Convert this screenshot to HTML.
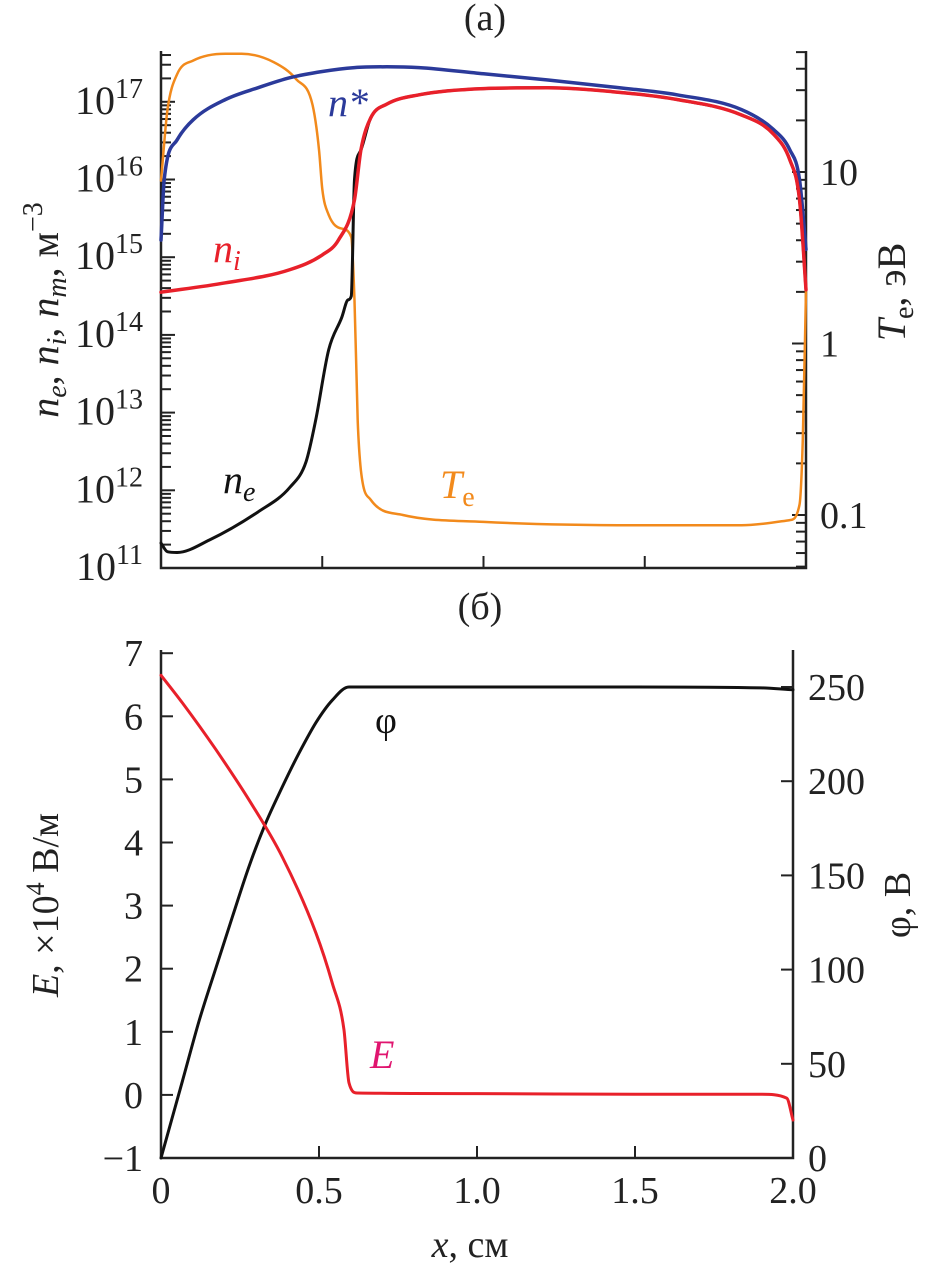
<!DOCTYPE html>
<html><head><meta charset="utf-8"><style>
html,body{margin:0;padding:0;background:#fff;}
svg{display:block;font-family:"Liberation Serif",serif;}
</style></head><body>
<svg id="c" width="925" height="1267" viewBox="0 0 925 1267" xmlns="http://www.w3.org/2000/svg">
<g id="g"></g>
<g style="font-family:'Liberation Serif',serif" fill="#222">
<text x="485" y="30" text-anchor="middle" font-size="38">(a)</text>
<text x="480" y="619" text-anchor="middle" font-size="38">(б)</text>
<text x="470" y="1257" text-anchor="middle" font-size="38"><tspan font-style="italic">x</tspan>, см</text>
<text transform="translate(58,310) rotate(-90)" text-anchor="middle" font-size="40"><tspan font-style="italic">n</tspan><tspan font-style="italic" font-size="28" dy="8">e</tspan><tspan dy="-8">, </tspan><tspan font-style="italic">n</tspan><tspan font-style="italic" font-size="28" dy="8">i</tspan><tspan dy="-8">, </tspan><tspan font-style="italic">n</tspan><tspan font-style="italic" font-size="28" dy="8">m</tspan><tspan dy="-8">, м</tspan><tspan font-size="28" dy="-16">−3</tspan></text>
<text transform="translate(905,292) rotate(-90)" text-anchor="middle" font-size="40"><tspan font-style="italic">T</tspan><tspan font-size="28" dy="8">e</tspan><tspan dy="-8">, эВ</tspan></text>
<text transform="translate(58,905) rotate(-90)" text-anchor="middle" font-size="38"><tspan font-style="italic">E</tspan>, ×10<tspan font-size="26" dy="-14">4</tspan><tspan dy="14"> В/м</tspan></text>
<text transform="translate(910,905) rotate(-90)" text-anchor="middle" font-size="38">φ, В</text>
<text x="328" y="116" font-size="40" font-style="italic" fill="#2b3a9a">n*</text>
<text x="213" y="262" font-size="40" font-style="italic" fill="#e8202a">n<tspan font-size="28" dy="8">i</tspan></text>
<text x="223" y="493" font-size="40" font-style="italic" fill="#111">n<tspan font-size="28" dy="8">e</tspan></text>
<text x="440" y="498" font-size="40" font-style="italic" fill="#f28a1c">T<tspan font-style="normal" font-size="28" dy="8">e</tspan></text>
<text x="375" y="733" font-size="38" fill="#111">φ</text>
<text x="370" y="1068" font-size="40" font-style="italic" fill="#e0156f">E</text>
</g>
</svg>
<script>
// ---- panel (a) data: x in cm, values as log10 ----
const nStarX = [0,0.01,0.05,0.1,0.2,0.3,0.4,0.5,0.6,0.7,0.8,1.0,1.2,1.4,1.6,1.8,1.9,1.95,1.98,2.0];
const nStarLog = [15.22,16.0,16.51,16.77,17.03,17.18,17.31,17.39,17.44,17.45,17.44,17.36,17.28,17.19,17.09,16.9,16.64,16.38,16.0,15.1];
const niX = [0,0.2,0.4,0.5,0.55,0.6,0.62,0.65,0.7,0.8,1.0,1.2,1.4,1.6,1.8,1.9,1.95,1.98,2.0];
const niLog = [14.55,14.67,14.84,15.03,15.22,15.74,16.38,16.79,16.97,17.09,17.17,17.18,17.13,17.03,16.83,16.58,16.25,15.74,14.58];
const neX = [0,0.02,0.05,0.15,0.3,0.4,0.45,0.48,0.52,0.56,0.58,0.59,0.6,0.62,0.65,0.7,0.8,1.0,1.2,1.4,1.6,1.8,1.9,1.95,1.98,2.0];
const neLog = [11.32,11.21,11.2,11.36,11.72,12.04,12.37,12.91,13.81,14.22,14.45,14.5,16.0,16.38,16.79,16.97,17.09,17.17,17.18,17.13,17.03,16.83,16.58,16.25,15.74,14.58];
const teX = [0,0.02,0.05,0.1,0.2,0.25,0.35,0.42,0.47,0.49,0.5,0.52,0.56,0.59,0.6,0.61,0.62,0.65,0.75,1.0,1.5,1.8,1.95,1.98,1.99,2.0];
const teLog = [0.95,1.36,1.57,1.65,1.69,1.69,1.64,1.54,1.39,1.13,0.9,0.75,0.67,0.62,0.25,-0.45,-0.74,-0.91,-1.0,-1.04,-1.06,-1.06,-1.03,-0.94,-0.56,0.31];
const densTicks = ["11","12","13","14","15","16","17"];
const teTicks = ["0.1","1","10"];
// ---- panel (b) data ----
const eX = [0,0.068,0.174,0.279,0.384,0.49,0.542,0.579,0.595,0.62,1.0,1.5,1.9,1.98,2.0];
const eVal = [6.65,6.21,5.47,4.67,3.77,2.57,1.77,1.03,0.19,0.03,0.02,0.01,0.01,-0.05,-0.4];
const phiX = [0,0.068,0.121,0.174,0.226,0.279,0.332,0.384,0.437,0.49,0.542,0.595,1.0,1.5,1.9,2.0];
const phiVal = [0,41,73,101,128,155,178,197,215,231,243,250,250,250,249.5,248.5];
const eTicks = [-1,0,1,2,3,4,5,6,7];
const phiTicks = [0,50,100,150,200,250];
const xTicks = ["0","0.5","1.0","1.5","2.0"];

const NS="http://www.w3.org/2000/svg";
const G=document.getElementById('g');
function el(t,a,txt){const e=document.createElementNS(NS,t);for(const k in a)e.setAttribute(k,a[k]);if(txt!==undefined)e.textContent=txt;G.appendChild(e);return e;}

const ax={x0:161,x1:806,yT:51,yB:568};
const axX=v=>ax.x0+(ax.x1-ax.x0)*v/2;
const axYd=l=>ax.yB-(l-11)*77.7;
const axYt=l=>172-(l-1)*171.5;
const bx={x0:161,x1:793,yT:650,yB:1158};
const bxX=v=>bx.x0+(bx.x1-bx.x0)*v/2;
const bxYe=v=>bx.yB-(v+1)*63.1;
const bxYp=v=>bx.yB-v*1.884;

function smoothPath(P){
  const n=P.length; if(n<3) return 'M'+P.map(p=>p.join(',')).join('L');
  const d=[],m=new Array(n);
  for(let i=0;i<n-1;i++){const dx=P[i+1][0]-P[i][0];d.push(dx===0?0:(P[i+1][1]-P[i][1])/dx);}
  m[0]=d[0];m[n-1]=d[n-2];
  for(let i=1;i<n-1;i++){m[i]=(d[i-1]*d[i]<=0)?0:(d[i-1]+d[i])/2;}
  for(let i=0;i<n-1;i++){if(d[i]===0){m[i]=0;m[i+1]=0;continue;}
    const a=m[i]/d[i],b=m[i+1]/d[i],s=a*a+b*b;if(s>9){const t=3/Math.sqrt(s);m[i]=t*a*d[i];m[i+1]=t*b*d[i];}}
  let s='M'+P[0][0].toFixed(1)+','+P[0][1].toFixed(1);
  for(let i=0;i<n-1;i++){const h=(P[i+1][0]-P[i][0])/3;
    s+='C'+(P[i][0]+h).toFixed(1)+','+(P[i][1]+m[i]*h).toFixed(1)+' '+(P[i+1][0]-h).toFixed(1)+','+(P[i+1][1]-m[i+1]*h).toFixed(1)+' '+P[i+1][0].toFixed(1)+','+P[i+1][1].toFixed(1);}
  return s;
}
function poly(xs,ys,fx,fy,color,w,name){
  const P=xs.map((x,i)=>[fx(x),fy(ys[i])]);
  const p=el('path',{d:smoothPath(P),fill:'none',stroke:color,'stroke-width':w,'stroke-linejoin':'round','stroke-linecap':'round'});
  
  
}
const AX='#222';
el('path',{d:`M${ax.x0},${ax.yT}V${ax.yB}H${ax.x1}V${ax.yT}`,fill:'none',stroke:AX,'stroke-width':2.5});
for(let d=11;d<=17;d++){
  for(let m=1;m<=9;m++){
    const l=d+Math.log10(m); const y=axYd(l); if(y<ax.yT)continue;
    el('line',{x1:ax.x0,x2:ax.x0+(m==1?14:10),y1:y,y2:y,stroke:AX,'stroke-width':2});
  }
}
densTicks.forEach((t,i)=>{
  const y=axYd(11+i);
  const tx=el('text',{x:143,y:y+12,'text-anchor':'end','font-size':40,fill:'#222'});
  tx.innerHTML='10<tspan dy="-16" font-size="28">'+t+'</tspan>';
  
  
});
for(let d=-2;d<=1;d++){for(let m=1;m<=9;m++){const y=axYt(d+Math.log10(m));if(y<ax.yT||y>ax.yB)continue;
  el('line',{x1:ax.x1,x2:ax.x1-(m==1?14:10),y1:y,y2:y,stroke:AX,'stroke-width':2});}}
teTicks.forEach((t,i)=>{
  const tl=el('text',{x:820,y:axYt(i-1)+13,'font-size':38,fill:'#222'},t);
  
  
});
[0.5,1.0,1.5].forEach(v=>el('line',{x1:axX(v),x2:axX(v),y1:ax.yB,y2:ax.yB-12,stroke:AX,'stroke-width':2}));

poly(teX,teLog,axX,axYt,'#f28a1c',2.5,'te-curve');
poly(nStarX,nStarLog,axX,axYd,'#2b3a9a',3.5,'n-star-curve');
poly(neX,neLog,axX,axYd,'#111',3,'ne-curve');
poly(niX,niLog,axX,axYd,'#e8202a',3.5,'ni-curve');

el('path',{d:`M${bx.x0},${bx.yT}V${bx.yB}H${bx.x1}V${bx.yT}`,fill:'none',stroke:AX,'stroke-width':2.5});
eTicks.forEach(v=>{const y=bxYe(v);el('line',{x1:bx.x0,x2:bx.x0+12,y1:y,y2:y,stroke:AX,'stroke-width':2});
  const t=el('text',{x:143,y:y+13,'text-anchor':'end','font-size':38,fill:'#222'},v<0?'−1':String(v));
  
  });
phiTicks.forEach(v=>{const y=bxYp(v);el('line',{x1:bx.x1,x2:bx.x1-12,y1:y,y2:y,stroke:AX,'stroke-width':2});
  const t=el('text',{x:808,y:y+13,'font-size':38,fill:'#222'},String(v));
  
  });
xTicks.forEach((t,i)=>{const v=i*0.5;const x=bxX(v);
  el('line',{x1:x,x2:x,y1:bx.yB,y2:bx.yB-12,stroke:AX,'stroke-width':2});
  const tt=el('text',{x:x,y:1203,'text-anchor':'middle','font-size':38,fill:'#222'},t);
  
  });
poly(phiX,phiVal,bxX,bxYp,'#111',3,'phi-curve');
poly(eX,eVal,bxX,bxYe,'#e8202a',3,'e-curve');
</script>
</body></html>
